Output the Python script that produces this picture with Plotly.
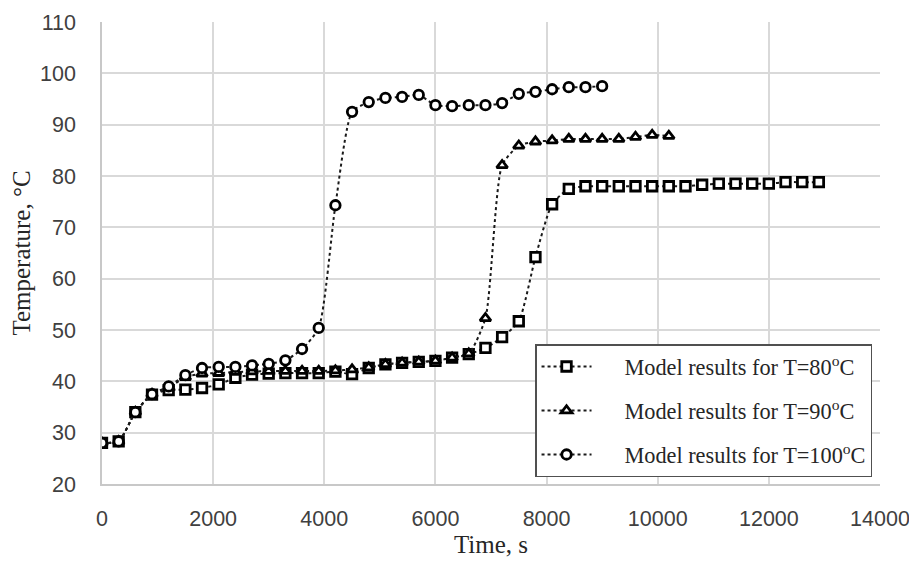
import plotly.graph_objects as go

# Time axis (s), sampled every 300 s
time_80 = [i * 300 for i in range(44)]
time_90 = [i * 300 for i in range(35)]
time_100 = [i * 300 for i in range(31)]

temp_80 = [28, 28.3, 34, 37.4, 38.3, 38.4, 38.7, 39.4, 40.7, 41.3,
           41.5, 41.6, 41.6, 41.6, 41.9, 41.4, 42.6, 43.3, 43.6, 43.8,
           44.0, 44.6, 45.3, 46.5, 48.6, 51.7, 64.2, 74.5, 77.5, 78.0,
           78.0, 78.0, 78.0, 78.0, 78.0, 78.0, 78.3, 78.5, 78.5, 78.5,
           78.5, 78.8, 78.8, 78.8]
temp_90 = [28, 28.3, 34, 37.5, 38.8, 40.8, 41.5, 41.6, 41.8, 41.9,
           42.0, 42.0, 42.0, 42.0, 42.1, 42.3, 42.7, 43.3, 43.6, 43.8,
           44.0, 44.6, 45.4, 52.3, 82.1, 85.9, 86.7, 86.9, 87.2, 87.2,
           87.2, 87.2, 87.6, 88.0, 87.8]
temp_100 = [28, 28.3, 34, 37.5, 39.0, 41.2, 42.6, 42.8, 42.8, 43.1,
            43.4, 44.1, 46.3, 50.4, 74.3, 92.5, 94.4, 95.2, 95.4, 95.8,
            93.8, 93.6, 93.8, 93.8, 94.2, 96.0, 96.4, 96.9, 97.3, 97.3,
            97.5]

pad = "\u00a0" * 5
series = [
    (pad + "Model results for T=80<sup>o</sup>C", time_80, temp_80, "square"),
    (pad + "Model results for T=90<sup>o</sup>C", time_90, temp_90, "triangle-up"),
    (pad + "Model results for T=100<sup>o</sup>C", time_100, temp_100, "circle"),
]

serif = "Liberation Serif, Times New Roman, serif"
sans = "Liberation Sans Narrow, Liberation Sans, Arial, sans-serif"

fig = go.Figure()
for i, (name, t, v, sym) in enumerate(series):
    fig.add_trace(go.Scatter(
        x=t, y=v, name=name, mode="lines+markers",
        legendgroup=f"g{i}",
        line=dict(color="#1a1a1a", width=2, dash="dot", shape="spline", smoothing=0.6),
        marker=dict(symbol=sym, size=9.5, color="white",
                    line=dict(color="black", width=2.8)),
    ))

axis_common = dict(
    showgrid=True, gridcolor="#d9d9d9", gridwidth=1.5,
    showline=True, linecolor="#c8c8c8", linewidth=1.5,
    zeroline=False, ticks="", automargin=False,
    ticklabeloverflow="allow",
    tickfont=dict(family=sans, size=21.5, color="#404040"),
)

fig.update_layout(
    width=909, height=565,
    margin=dict(l=102, r=29, t=22, b=81),
    paper_bgcolor="white", plot_bgcolor="white",
    xaxis=dict(range=[0, 14000], dtick=2000, tickformat="d", ticklabelstandoff=14,
               **axis_common,
               title=dict(text="Time, s", font=dict(family=serif, size=25, color="#262626"),
                          standoff=6)),
    yaxis=dict(range=[20, 110], dtick=10, ticklabelstandoff=20, **axis_common,
               title=dict(text="Temperature, °C", font=dict(family=serif, size=25, color="#262626"),
                          standoff=2)),
    legend=dict(
        x=0.5566, y=0.303, xanchor="left", yanchor="top",
        bgcolor="white", bordercolor="#505050", borderwidth=1.5,
        font=dict(family=serif, size=22.3, color="#262626"),
        traceorder="grouped", tracegroupgap=12, itemwidth=50,
    ),
    showlegend=True,
)

fig.write_html("out.html")
